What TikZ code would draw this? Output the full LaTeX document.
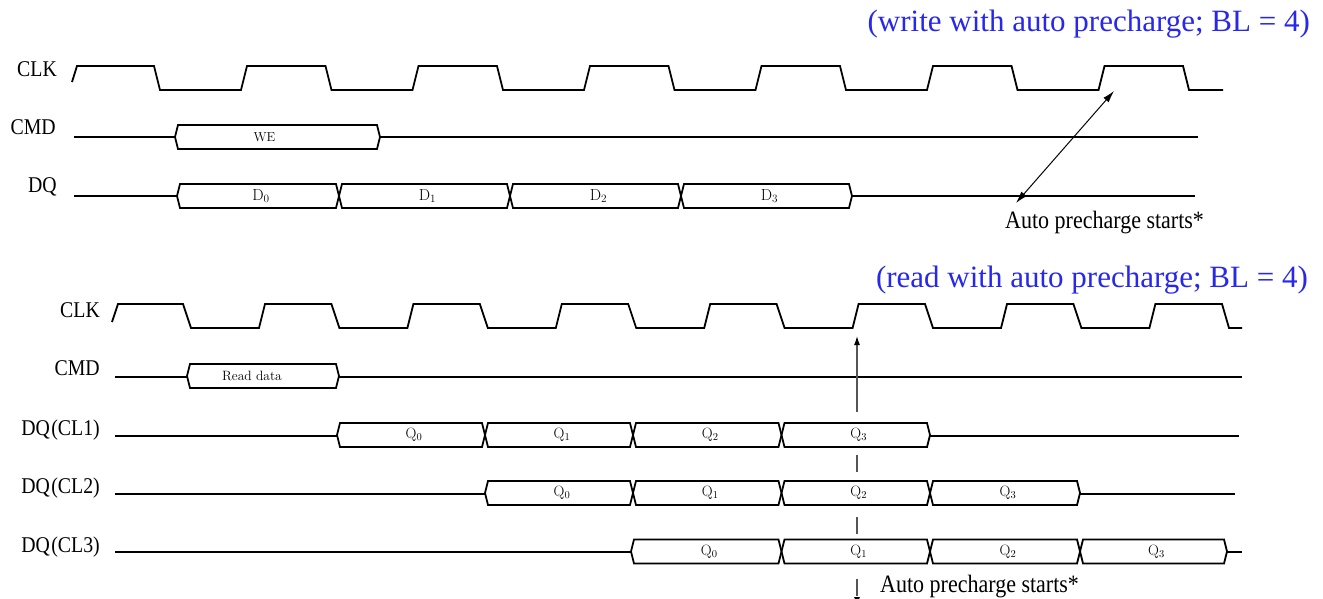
\documentclass[tikz,border=0pt]{standalone}
\usepackage{fontspec}
\usetikzlibrary{arrows.meta}
\newfontfamily\lblfont[FakeStretch=0.88]{Liberation Serif}
\newfontfamily\ttlfont{Liberation Serif}
\definecolor{ttlblue}{RGB}{40,40,235}
\definecolor{arrgray}{RGB}{85,85,85}
\tikzset{
  sig/.style={line width=1.8pt, line join=miter},
  siglabel/.style={font=\lblfont\fontsize{22.5}{24}\selectfont, anchor=base east, inner sep=0pt},
  ttl/.style={font=\ttlfont\fontsize{31}{34}\selectfont, text=ttlblue, anchor=base east, inner sep=0pt},
  note/.style={font=\lblfont\fontsize{25}{27}\selectfont, anchor=base west, inner sep=0pt},
  boxlbl/.style={font=\fontsize{15}{17}\selectfont, inner sep=0pt},
  welbl/.style={font=\fontsize{13}{15}\selectfont, inner sep=0pt},
  dlbl/.style={font=\fontsize{16}{18}\selectfont, inner sep=0pt},
}
% hexagonal bus box: x0, x1, y, node name, label style, label
\newcommand\busbox[6]{%
  \draw[sig] (#1,#3) -- ({#1+3},{#3-12}) -- ({#2-3},{#3-12}) -- (#2,#3)
     -- ({#2-3},{#3+12}) -- ({#1+3},{#3+12}) -- cycle;
  \node[#5] (#4) at ({(#1+#2)/2+3},#3) {#6};}
\begin{document}
\begin{tikzpicture}[x=1pt,y=-1pt]
\useasboundingbox (0,0) rectangle (1323,599);
\fill[white] (0,0) rectangle (1323,599);

% ---------------- write with auto precharge ----------------
\node[ttl] (t1) at (1310,32) {(write with auto precharge; BL = 4)};
\node[siglabel] (clk1) at (57,77) {CLK};
\node[siglabel] (cmd1) at (56,135) {CMD};
\node[siglabel] (dq1) at (57,193) {DQ};

\draw[sig] (72,82) -- (77,66)
  \foreach \k in {0,...,5} {
    -- ({154+171.5*\k},66) -- ({160+171.5*\k},90)
    -- ({241+171.5*\k},90) -- ({247+171.5*\k},66) }
  -- (1183,66) -- (1189,90) -- (1223,90);

\draw[sig] (74,137) -- (175,137);
\busbox{175}{380}{137}{we}{welbl}{\hspace*{-32pt}\raisebox{-3pt}{WE}}
\draw[sig] (380,137) -- (1198,137);

\draw[sig] (74,196) -- (177,196);
\busbox{177}{339}{196}{d0}{dlbl}{D\textsubscript{0}}
\busbox{339}{510}{196}{d1}{dlbl}{D\textsubscript{1}}
\busbox{510}{681}{196}{d2}{dlbl}{D\textsubscript{2}}
\busbox{681}{852}{196}{d3}{dlbl}{D\textsubscript{3}}
\draw[sig] (852,196) -- (1195,196);

\coordinate (wA) at (1016,203);
\coordinate (wB) at (1114,91);
\draw[line width=1pt, {Latex[length=12pt,width=7pt]}-{Latex[length=12pt,width=7pt]}] (wA) -- (wB);
\node[note] (n1) at (1005,228) {Auto precharge starts*};

% ---------------- read with auto precharge ----------------
\node[ttl] (t2) at (1308,287) {(read with auto precharge; BL = 4)};
\node[siglabel] (clk2) at (100,317) {CLK};
\node[siglabel] (cmd2) at (100,375) {CMD};
\node[siglabel] (cl1) at (100,435) {DQ\kern1.5pt(CL1)};
\node[siglabel] (cl2) at (100,493) {DQ\kern1.5pt(CL2)};
\node[siglabel] (cl3) at (100,552) {DQ\kern1.5pt(CL3)};

\draw[sig] (112,322) -- (118,304)
  \foreach \k in {0,...,6} {
    -- ({183+148.4*\k},304) -- ({191+148.4*\k},328)
    -- ({259+148.4*\k},328) -- ({265+148.4*\k},304) }
  -- (1222,304) -- (1229,328) -- (1242,328);

\draw[sig] (115,377) -- (187,377);
\busbox{187}{339}{376}{rd}{boxlbl}{\hspace*{-28pt}\fontsize{13.5}{15}\selectfont Read data}
\draw[sig] (339,377) -- (1242,377);

\draw[sig] (115,436) -- (337,436);
\busbox{337}{485}{435}{a0}{boxlbl}{Q\textsubscript{0}}
\busbox{485}{633}{435}{a1}{boxlbl}{Q\textsubscript{1}}
\busbox{633}{781.5}{435}{a2}{boxlbl}{Q\textsubscript{2}}
\busbox{781.5}{930}{435}{a3}{boxlbl}{Q\textsubscript{3}}
\draw[sig] (930,436) -- (1239,436);

\draw[sig] (115,494) -- (485,494);
\busbox{485}{633}{493}{b0}{boxlbl}{Q\textsubscript{0}}
\busbox{633}{781.5}{493}{b1}{boxlbl}{Q\textsubscript{1}}
\busbox{781.5}{930}{493}{b2}{boxlbl}{Q\textsubscript{2}}
\busbox{930}{1080}{493}{b3}{boxlbl}{Q\textsubscript{3}}
\draw[sig] (1080,494) -- (1235,494);

\draw[sig] (115,552) -- (631,552);
\busbox{631}{781.5}{551.5}{c0}{boxlbl}{Q\textsubscript{0}}
\busbox{781.5}{930}{551.5}{c1}{boxlbl}{Q\textsubscript{1}}
\busbox{930}{1080}{551.5}{c2}{boxlbl}{Q\textsubscript{2}}
\busbox{1080}{1227}{551.5}{c3}{boxlbl}{Q\textsubscript{3}}
\draw[sig] (1227,552) -- (1242,552);

\coordinate (rA) at (857,412);
\coordinate (rB) at (857,336);
\coordinate (rC) at (857,455);
\coordinate (rD) at (857,606);
\draw[line width=1.2pt, arrgray, -{Latex[length=9pt,width=6pt,color=black]}] (rA) -- (rB);
\draw[line width=1.2pt, arrgray, dash pattern=on 17pt off 45pt, -{Latex[length=9pt,width=6pt,color=black]}] (rC) -- (rD);
\node[note] (n2) at (880,592) {Auto precharge starts*};
\end{tikzpicture}
\end{document}
